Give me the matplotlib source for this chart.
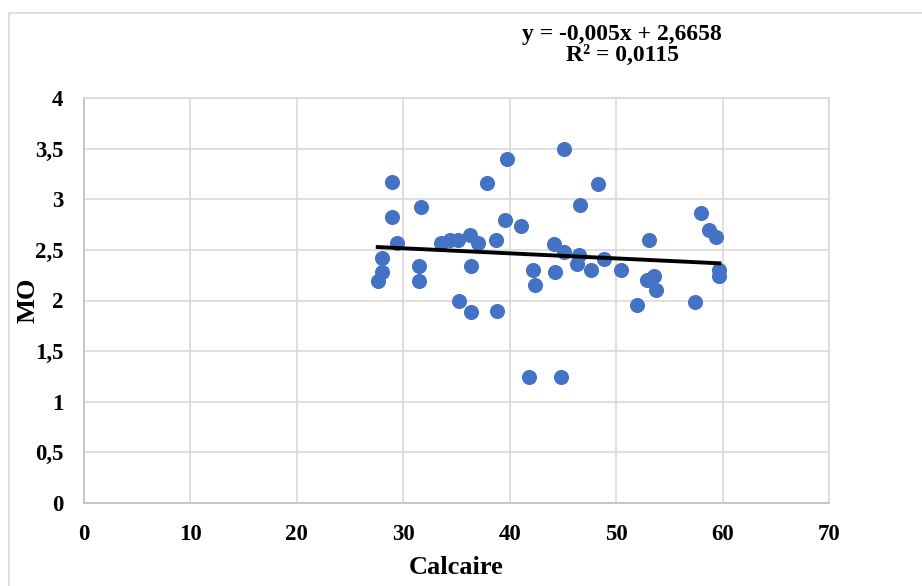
import numpy as np
import matplotlib
matplotlib.use("Agg")
import matplotlib.pyplot as plt
from matplotlib.patches import Rectangle

# Calcaire vs MO samples
calcaire = [27.6, 28.0, 28.0, 28.9, 28.9, 29.4, 31.5, 31.5, 31.7, 33.5,
            34.4, 35.1, 35.2, 36.3, 36.4, 36.4, 37.0, 37.9, 38.7, 38.8,
            39.6, 39.7, 41.1, 41.8, 42.2, 42.4, 44.2, 44.3, 44.8, 45.1,
            45.1, 46.3, 46.5, 46.6, 47.6, 48.3, 48.9, 50.5, 52.0, 52.9,
            53.1, 53.6, 53.7, 57.4, 58.0, 58.7, 59.4, 59.7, 59.7]
mo = [2.19, 2.28, 2.42, 3.17, 2.82, 2.57, 2.345, 2.19, 2.92, 2.57,
      2.60, 2.60, 2.00, 2.65, 2.345, 1.885, 2.57, 3.16, 2.60, 1.90,
      2.80, 3.40, 2.74, 1.245, 2.30, 2.15, 2.56, 2.28, 1.245, 3.50,
      2.475, 2.36, 2.45, 2.94, 2.30, 3.15, 2.41, 2.30, 1.96, 2.20,
      2.60, 2.245, 2.10, 1.99, 2.86, 2.70, 2.63, 2.30, 2.245]

slope = -0.005
intercept = 2.6658
r2 = 0.0115

x_ticks = [0, 10, 20, 30, 40, 50, 60, 70]
y_ticks = [0, 0.5, 1, 1.5, 2, 2.5, 3, 3.5, 4]


def fr(v):
    # decimal comma
    return f"{v:g}".replace(".", ",")


plt.rcParams['font.family'] = ['Liberation Serif', 'DejaVu Serif']
plt.rcParams['font.weight'] = 'bold'

fig = plt.figure(figsize=(9.22, 5.86), dpi=100)
ax = fig.add_axes([84 / 922, 1 - 503 / 586, (829 - 84) / 922, (503 - 98) / 586])

# chart area frame
fig.patches.append(Rectangle((9 / 922, -0.1), 1.2, 1 - 13 / 586 + 0.1,
                             transform=fig.transFigure, fill=False,
                             edgecolor='#D9D9D9', linewidth=1.2))

ax.scatter(calcaire, mo, s=118, color='#4472C4', linewidths=0, zorder=3)

xs = np.array([min(calcaire), max(calcaire)])
ax.plot(xs, slope * xs + intercept, color='black', linewidth=2.8, zorder=4)

ax.set_xlim(0, 70)
ax.set_ylim(0, 4)
ax.set_xticks(x_ticks)
ax.set_yticks(y_ticks)
ax.set_xticklabels([fr(v) for v in x_ticks])
ax.set_yticklabels([fr(v) for v in y_ticks])
ax.tick_params(length=0, labelsize=16.5)
ax.tick_params(axis='x', pad=15)
ax.tick_params(axis='y', pad=15)
ax.grid(True, color='#D9D9D9', linewidth=1.2)
ax.set_axisbelow(True)
for s in ax.spines.values():
    s.set_color('#D9D9D9')
    s.set_linewidth(1.2)
ax.spines['bottom'].set_color('#BFBFBF')
ax.spines['left'].set_color('#BFBFBF')

fig.text(456 / 922, 1 - 568 / 586, "Calcaire", ha='center', va='center',
         fontsize=19, fontweight='bold')
fig.text(28 / 922, 1 - 300 / 586, "MO", ha='center', va='center',
         rotation=90, fontsize=19, fontweight='bold')

eq = f"y = {fr(slope)}x + {fr(intercept)}\nR² = {fr(r2)}"
fig.text(622 / 922, 1 - 45 / 586, eq, ha='center', va='center',
         fontsize=17, fontweight='bold', linespacing=1.0)

fig.savefig("out.png", dpi=100)
